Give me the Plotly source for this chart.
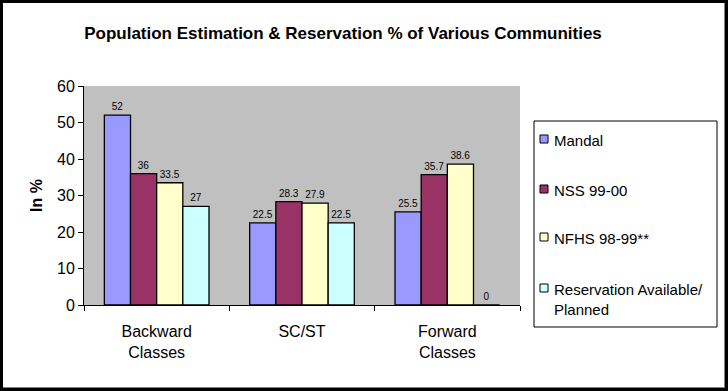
import plotly.graph_objects as go

categories = ["Backward<br>Classes", "SC/ST", "Forward<br>Classes"]
series_names = ["Mandal", "NSS 99-00", "NFHS 98-99**", "Reservation Available/<br>Planned"]
mandal = [52, 22.5, 25.5]
nss = [36, 28.3, 35.7]
nfhs = [33.5, 27.9, 38.6]
reservation = [27, 22.5, 0]
colors = ["#9999FF", "#993366", "#FFFFCC", "#CCFFFF"]
y_ticks = [0, 10, 20, 30, 40, 50, 60]

W, H = 728, 391
ML, MR, MT, MB = 84, 208, 86, 86
PW, PH = W - ML - MR, H - MT - MB

def px_x(p):
    return (p - ML) / PW

def px_y(p):
    return (H - MB - p) / PH

FONT = "Arial, Liberation Sans, sans-serif"

fig = go.Figure()
for i, (name, vals) in enumerate(zip(series_names, [mandal, nss, nfhs, reservation])):
    fig.add_trace(go.Bar(
        x=categories, y=vals, name=name,
        marker=dict(color=colors[i], line=dict(color="black", width=1.3)),
        text=[f"{v:g}" for v in vals], textposition="outside",
        textfont=dict(size=10, color="black", family=FONT),
        cliponaxis=False, showlegend=False,
    ))

fig.update_layout(
    width=W, height=H,
    margin=dict(l=ML, r=MR, t=MT, b=MB, autoexpand=False),
    barmode="group", bargap=0.28, bargroupgap=0,
    plot_bgcolor="#C0C0C0", paper_bgcolor="white",
    font=dict(family=FONT, color="black"),
    title=dict(text="Population Estimation & Reservation % of Various Communities",
               x=343 / W, xanchor="center", y=1 - 33 / H, yanchor="middle",
               font=dict(size=17, family=FONT, color="black", weight="bold")),
)
fig.update_yaxes(range=[0, 60], tickvals=y_ticks, ticks="outside", ticklen=5,
                 tickcolor="black", showline=True, linecolor="black", linewidth=1,
                 showgrid=False, zeroline=False,
                 tickfont=dict(size=16, family=FONT, color="black"))
fig.update_xaxes(ticks="outside", ticklen=5, tickcolor="black", tickson="boundaries",
                 showline=True, linecolor="black", linewidth=1, showgrid=False,
                 ticklabelstandoff=12,
                 tickfont=dict(size=16, family=FONT, color="black"))

fig.add_annotation(text="<b>In %</b>", xref="paper", yref="paper",
                   x=px_x(36), y=px_y(196), xanchor="center", yanchor="middle",
                   textangle=-90, showarrow=False,
                   font=dict(size=16, family=FONT, color="black"))

# legend box (drawn manually to match the original's compact layout)
fig.add_shape(type="rect", xref="paper", yref="paper",
              x0=px_x(534), x1=px_x(717), y0=px_y(327), y1=px_y(121),
              line=dict(color="black", width=1), fillcolor="white", layer="above")
legend_y = [139, 189, 237, 288]
for name, col, ly in zip(series_names, colors, legend_y):
    fig.add_shape(type="rect", xref="paper", yref="paper",
                  x0=px_x(540), x1=px_x(548), y0=px_y(ly + 4), y1=px_y(ly - 4),
                  line=dict(color="black", width=1), fillcolor=col, layer="above")
    fig.add_annotation(text=name, xref="paper", yref="paper",
                       x=px_x(552), y=px_y(ly - 9), xanchor="left", yanchor="top",
                       align="left", showarrow=False,
                       font=dict(size=15, family=FONT, color="black"))

# outer frame
fig.add_shape(type="rect", xref="paper", yref="paper",
              x0=px_x(1.5), x1=px_x(726.5), y0=px_y(389.5), y1=px_y(1.5),
              line=dict(color="black", width=3), layer="above")
fig.add_shape(type="line", xref="paper", yref="paper",
              x0=px_x(724.5), x1=px_x(724.5), y0=px_y(388), y1=px_y(3),
              line=dict(color="#808080", width=1), layer="above")
fig.add_shape(type="line", xref="paper", yref="paper",
              x0=px_x(3), x1=px_x(725), y0=px_y(387.5), y1=px_y(387.5),
              line=dict(color="#808080", width=1), layer="above")

fig.write_html("out.html", config={"displayModeBar": False},
               post_script="document.body.style.margin='0';")
